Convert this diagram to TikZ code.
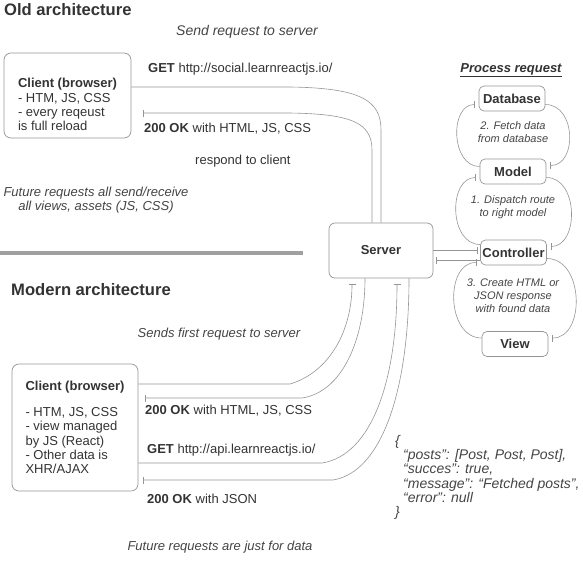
\documentclass[tikz,border=0pt]{standalone}
\usepackage{fontspec}
\setmainfont{Liberation Sans}
\usepackage{tikz}
\usetikzlibrary{arrows.meta, positioning}
\definecolor{ink}{HTML}{333333}
\definecolor{soft}{HTML}{444444}
\definecolor{edge}{HTML}{959595}
\definecolor{divider}{HTML}{A0A0A0}

\begin{document}
\begin{tikzpicture}[x=1pt, y=1pt,
    every node/.style={font=\fontsize{13}{14.3}\selectfont, text=ink},
    heading/.style={font=\fontsize{16.6}{18}\selectfont\bfseries, anchor=base west, inner sep=0pt},
    label/.style={anchor=base west, inner sep=0pt},
    note/.style={font=\fontsize{13}{14.5}\selectfont\itshape, text=soft, align=center, inner sep=0pt},
    client/.style={rectangle, rounded corners=7pt, draw=edge, line width=0.7pt, align=left, minimum width=127pt},
    srv/.style={rectangle, rounded corners=6pt, draw=edge, line width=0.7pt, minimum width=104pt, minimum height=55pt, font=\fontsize{13}{14}\selectfont\bfseries},
    stage/.style={rectangle, rounded corners=5pt, draw=edge, line width=0.7pt, minimum width=66pt, minimum height=25pt, inner sep=1pt, font=\fontsize{13}{14}\selectfont\bfseries},
    stepnote/.style={font=\fontsize{11}{13}\selectfont\itshape, text=soft, align=center, inner sep=0pt},
    plain/.style={draw=edge, line width=0.6pt},
    flow/.style={draw=edge, line width=0.6pt, -{Bar[width=7pt]}, shorten >=4pt}
]
\useasboundingbox (0,0) rectangle (583,-563);

% --- Old architecture ---
\node[heading] (oldhead) at (4,-15) {Old architecture};
\node[client, minimum height=85pt] (oldclient) at (67.5,-95.5)
    {\rule{0pt}{28pt}\textbf{Client (browser)}\\- HTM, JS, CSS\\- every reqeust\\is full reload};
\node[srv] (server) at (381,-250.5) {Server};
\node[note, font=\fontsize{14}{15}\selectfont\itshape, anchor=base] (sendreq) at (247,-35) {Send request to server};
\node[label] (getold) at (148,-72) {\textbf{GET} http://social.learnreactjs.io/};
\node[label] (okold) at (144,-132) {\textbf{200 OK} with HTML, JS, CSS};
\node[label] (respond) at (195,-164) {respond to client};
\node[note] (futureold) at (96,-200) {Future requests all send/receive\\all views, assets (JS, CSS)};
\draw[plain] ([yshift=8.5pt]oldclient.east) -- (290,-87)
    .. controls (360,-88) and (381,-100) .. (381,-130) -- (server.north);
\draw[flow, shorten >=12pt] ([xshift=-9pt]server.north) -- (372,-150)
    .. controls (372,-122) and (350,-114) .. (290,-113) -- ([yshift=-17.5pt]oldclient.east);

\draw[divider, line width=3.5pt] (0,-253) -- (303,-253);

% --- Process request ---
\node[font=\fontsize{13}{14}\selectfont\bfseries\itshape, anchor=base] (prochead) at (511,-72) {\underline{Process request}};
\node[stage] (db) at (512,-98.5) {Database};
\node[stage] (model) at (513,-171.5) {Model};
\node[stage] (ctrl) at (513.5,-252.5) {Controller};
\node[stage] (view) at (515,-344) {View};
\node[stepnote] (fetchnote) at (513,-132.5) {2. Fetch data\\from database};
\node[stepnote] (routenote) at (513,-207.5) {1. Dispatch route\\to right model};
\node[stepnote] (viewnote) at (513,-296) {3. Create HTML or\\JSON response\\with found data};
\draw[flow] ([yshift=5pt]model.west) to[out=180, in=180, looseness=1.2] ([yshift=-6pt]db.west);
\draw[flow] ([yshift=-6pt]db.east) to[out=0, in=0, looseness=1.3] ([yshift=6pt]model.east);
\draw[flow] ([yshift=8pt]ctrl.west) to[out=180, in=180, looseness=1.2] ([yshift=-6pt]model.west);
\draw[flow] ([yshift=-6pt]model.east) to[out=0, in=0, looseness=1.2] ([yshift=6pt]ctrl.east);
\draw[flow] ([yshift=6pt]view.west) to[out=180, in=180, looseness=1.2] ([yshift=-10pt]ctrl.west);
\draw[flow] ([yshift=-6pt]ctrl.east) to[out=0, in=0, looseness=1.2] ([yshift=6pt]view.east);
\draw[flow, shorten >=3pt] (server.east) -- (server.east -| ctrl.west);
\draw[flow, shorten >=3pt] ([yshift=-9.5pt]server.east -| ctrl.west) -- ([yshift=-9.5pt]server.east);

% --- Modern architecture ---
\node[heading] (newhead) at (11,-295) {Modern architecture};
\node[client, minimum width=126pt, minimum height=127pt] (newclient) at (75,-427.5)
    {\textbf{Client (browser)}\\[11.5pt]- HTM, JS, CSS\\- view managed\\by JS (React)\\- Other data is\\XHR/AJAX};
\node[note, anchor=base] (sendfirst) at (219,-337) {Sends first request to server};
\node[label] (oknew) at (145,-414) {\textbf{200 OK} with HTML, JS, CSS};
\node[label] (getnew) at (147,-453) {\textbf{GET} http://api.learnreactjs.io/};
\node[label] (okjson) at (147,-503) {\textbf{200 OK} with JSON};
\node[note, anchor=base] (futurenew) at (220,-550) {Future requests are just for data};
\node[note, font=\fontsize{14}{14.3}\selectfont\itshape, align=left, anchor=west] (json) at (395,-477.5)
    {\{\\\hspace*{8pt}“posts”: [Post, Post, Post],\\\hspace*{8pt}“succes”: true,\\\hspace*{8pt}“message”: “Fetched posts”,\\\hspace*{8pt}“error”: null\\\}};
\draw[flow, shorten >=6pt] ([yshift=43.5pt]newclient.east) -- (290,-384)
    .. controls (330,-372) and (352,-330) .. ([xshift=-29pt]server.south);
\draw[flow, shorten >=7pt] ([xshift=-16pt]server.south)
    .. controls (365,-340) and (342,-392) .. (302,-398) -- ([yshift=29.5pt]newclient.east);
\draw[flow, shorten >=6pt] ([yshift=-35.5pt]newclient.east) -- (322,-463)
    .. controls (372,-455) and (397,-380) .. ([xshift=16pt]server.south);
\draw[flow, shorten >=5pt] ([xshift=28pt]server.south)
    .. controls (409,-390) and (382,-472) .. (333,-480) -- ([yshift=-52.5pt]newclient.east);
\end{tikzpicture}
\end{document}
